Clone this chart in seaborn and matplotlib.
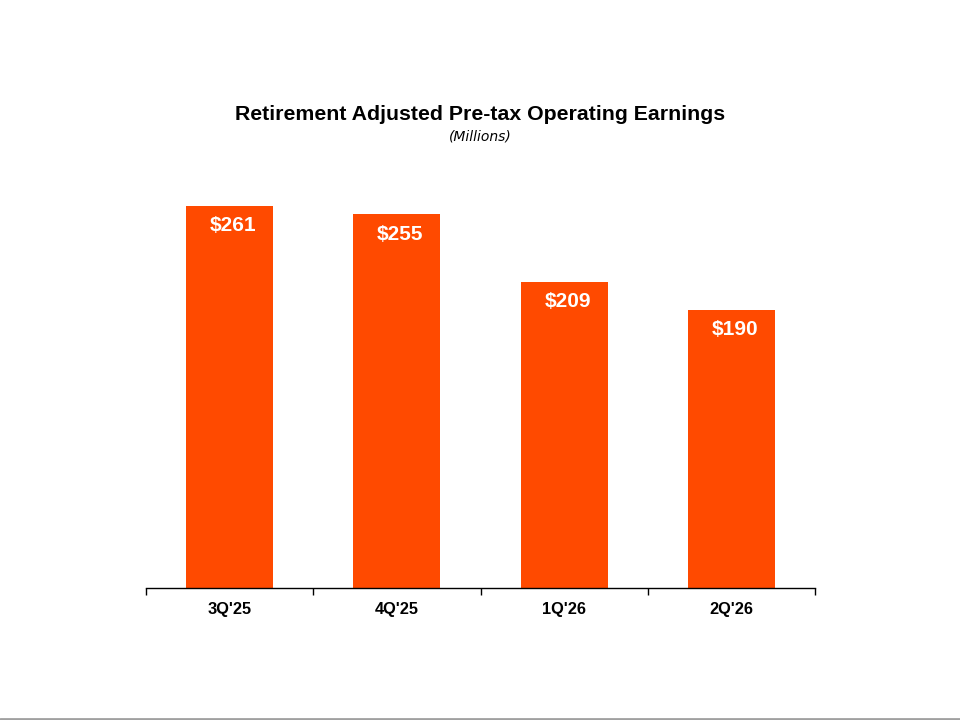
import matplotlib
matplotlib.use("Agg")
import matplotlib.pyplot as plt
import seaborn as sns
import pandas as pd

quarters = ["3Q'25", "4Q'25", "1Q'26", "2Q'26"]
earnings = [261, 255, 209, 190]
labels = ["$261", "$255", "$209", "$190"]

df = pd.DataFrame({"quarter": quarters, "earnings": earnings})

sns.set_style("white")
plt.rcParams["font.family"] = ["Liberation Sans", "DejaVu Sans"]
plt.rcParams["text.color"] = "black"
plt.rcParams["xtick.color"] = "black"

fig = plt.figure(figsize=(9.6, 7.2), dpi=100)
ax = fig.add_axes([146 / 960, 132 / 720, 669 / 960, 428 / 720])
sns.barplot(data=df, x="quarter", y="earnings", color="#FF4A00",
            saturation=1, width=0.52, linewidth=0, ax=ax)

ax.set_xlim(-0.5, len(quarters) - 0.5)
ax.set_ylim(0, 428 / 1.4655)
ax.set_xlabel("")
ax.set_ylabel("")
ax.set_yticks([])
for s in ["top", "right", "left"]:
    ax.spines[s].set_visible(False)
ax.spines["bottom"].set_color("black")
ax.spines["bottom"].set_linewidth(1)

# ticks sit between categories
ax.set_xticks([i - 0.5 for i in range(len(quarters) + 1)], minor=True)
ax.tick_params(axis="x", which="minor", length=5, width=1, color="black",
               direction="out", bottom=True)
ax.tick_params(axis="x", which="major", length=0, pad=10)
ax.set_xticks(range(len(quarters)))
ax.set_xticklabels(quarters, fontsize=11.8, fontweight="bold", color="black")

for i, (v, lab) in enumerate(zip(earnings, labels)):
    ax.text(i + 0.02, v - 13.5, lab, ha="center", va="center", color="white",
            fontsize=15, fontweight="bold")

fig.text(0.5, 1 - 115 / 720, "Retirement Adjusted Pre-tax Operating Earnings",
         ha="center", va="center", fontsize=15.3, fontweight="bold",
         color="black")
fig.text(0.5, 1 - 136 / 720, "(Millions)", ha="center", va="center",
         fontsize=10, style="italic", family=["DejaVu Sans"], color="black")

# thin grey rule along the bottom edge
fig.add_artist(plt.Line2D([0, 1], [1.5 / 720, 1.5 / 720], color="#A0A0A0",
                          linewidth=2, transform=fig.transFigure))

fig.savefig("out.png", dpi=100, facecolor="white")
